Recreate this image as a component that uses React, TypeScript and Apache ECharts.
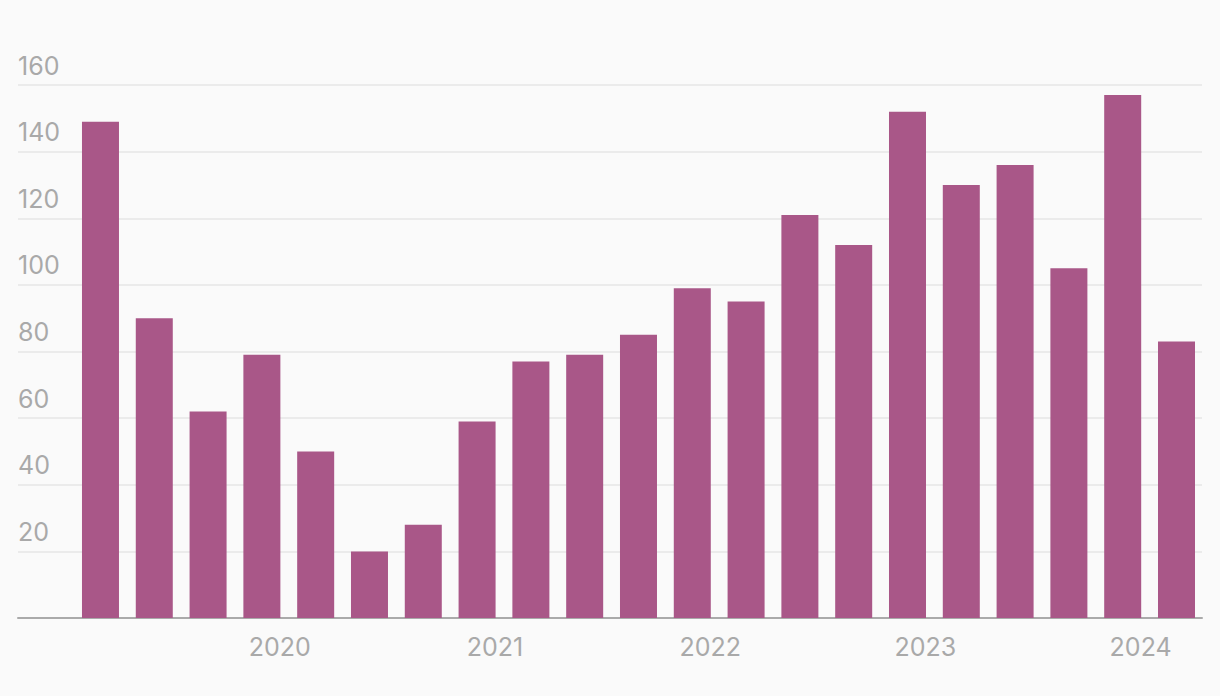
import React, { useEffect, useRef } from "react";
import * as echarts from "echarts";

// Quarterly observations, dated by month (YYYY-MM)
const periods = [
  "2019-03", "2019-06", "2019-09", "2019-12",
  "2020-03", "2020-06", "2020-09", "2020-12",
  "2021-03", "2021-06", "2021-09", "2021-12",
  "2022-03", "2022-06", "2022-09", "2022-12",
  "2023-03", "2023-06", "2023-09", "2023-12",
  "2024-03",
];
const values = [
  149, 90, 62, 79,
  50, 20, 28, 59,
  77, 79, 85, 99,
  95, 121, 112, 152,
  130, 136, 105, 157,
  83,
];
const yearLabels = ["2020", "2021", "2022", "2023", "2024"];
const yTicks = [0, 20, 40, 60, 80, 100, 120, 140, 160];

const monthIndex = (s: string) => {
  const [y, m] = s.split("-").map(Number);
  return y * 12 + (m - 1);
};
const base = monthIndex(periods[0]);
const toX = (s: string) => (monthIndex(s) - base) / 3;

export default function App() {
  const ref = useRef<HTMLDivElement>(null);
  useEffect(() => {
    if (!ref.current) return;
    const chart = echarts.init(ref.current, null, { renderer: "svg" });
    const labelColor = "#a9a9a9";
    const font = "Inter, 'Noto Sans', sans-serif";
    const yearPos = yearLabels.map((y) => toX(`${y}-01`));
    chart.setOption({
      animation: false,
      backgroundColor: "#fafafa",
      grid: { left: 18, right: 18, top: 85, bottom: 78, containLabel: false },
      xAxis: {
        type: "value",
        min: -1.533,
        max: 20.474,
        splitLine: { show: false },
        axisTick: { show: false },
        axisLine: { show: true, lineStyle: { color: "#aaaaaa", width: 2 } },
        axisLabel: {
          customValues: yearPos,
          color: labelColor,
          fontSize: 25,
          fontFamily: font,
          margin: 16,
          formatter: (v: number) => {
            const i = yearPos.findIndex((p) => Math.abs(p - v) < 0.01);
            return i >= 0 ? yearLabels[i] : "";
          },
        },
      },
      yAxis: {
        type: "value",
        min: yTicks[0],
        max: yTicks[yTicks.length - 1],
        interval: 20,
        axisLine: { show: false },
        axisTick: { show: false },
        splitLine: { show: true, lineStyle: { color: "#ebebeb", width: 2 } },
        axisLabel: {
          inside: true,
          margin: 0,
          align: "left",
          verticalAlign: "bottom",
          padding: [0, 0, 7, 0],
          color: labelColor,
          fontSize: 25,
          fontFamily: font,
          formatter: (v: number) => (v === 0 ? "" : String(v)),
        },
      },
      series: [
        {
          type: "bar",
          barWidth: 37,
          itemStyle: { color: "#a95788" },
          data: periods.map((p, i) => [toX(p), values[i]]),
        },
      ],
    });
    return () => chart.dispose();
  }, []);
  return (
    <div
      ref={ref}
      style={{ position: "fixed", left: 0, top: 0, width: 1220, height: 696 }}
    />
  );
}
